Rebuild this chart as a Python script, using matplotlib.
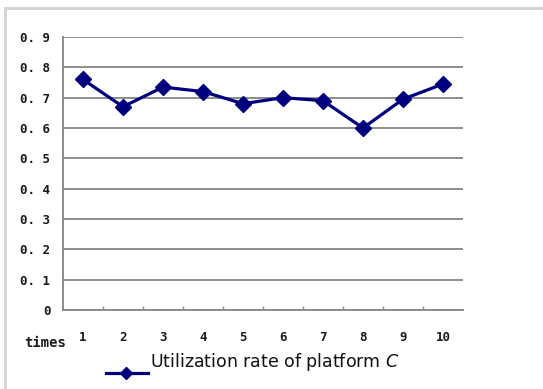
import matplotlib
matplotlib.use("Agg")
import matplotlib.pyplot as plt
from matplotlib.lines import Line2D

# Utilization of platform C over ten runs
times = [1, 2, 3, 4, 5, 6, 7, 8, 9, 10]
utilization = [0.76, 0.67, 0.735, 0.72, 0.68, 0.70, 0.69, 0.60, 0.695, 0.745]
y_ticks = [0, 0.1, 0.2, 0.3, 0.4, 0.5, 0.6, 0.7, 0.8, 0.9]
y_tick_labels = ["0", "0. 1", "0. 2", "0. 3", "0. 4", "0. 5", "0. 6", "0. 7", "0. 8", "0. 9"]
x_tick_labels = [str(t) for t in times]
series_name = r"Utilization rate of platform $\mathit{C}$"

W, H = 543, 389
fig = plt.figure(figsize=(W / 100, H / 100), dpi=100)
fig.patch.set_facecolor("white")

def fx(px):
    return px / W

def fy(py):
    return 1 - py / H

ax = fig.add_axes([fx(63), fy(310), fx(463) - fx(63), fy(37) - fy(310)])
ax.set_xlim(0.5, 10.5)
ax.set_ylim(0, 0.9)

navy = "#00007f"
ax.plot(times, utilization, color=navy, lw=2.3, marker="D", ms=8,
        mfc=navy, mec=navy, zorder=3, clip_on=False)

grid_c = "#8c8c8c"
tick_font = dict(fontsize=9, fontweight="bold", family="DejaVu Sans Mono",
                 color="#1a1a1a")
ax.set_yticks(y_ticks)
ax.set_yticklabels(y_tick_labels, **tick_font)
ax.yaxis.grid(True, color=grid_c, lw=1.4)
ax.tick_params(axis="y", length=0, pad=9)

ax.set_xticks(times)
ax.set_xticklabels(x_tick_labels, **tick_font)
ax.set_xticks([t + 0.5 for t in times[:-1]], minor=True)
ax.tick_params(axis="x", which="major", length=0, pad=15)
ax.tick_params(axis="x", which="minor", direction="in", length=3,
               width=1, color=grid_c)
ax.set_axisbelow(True)

for side in ("top", "right"):
    ax.spines[side].set_visible(False)
for side in ("left", "bottom"):
    ax.spines[side].set_color(grid_c)
    ax.spines[side].set_linewidth(1.4)

fig.text(fx(24), fy(343), "times", fontsize=10, fontweight="bold",
         family="DejaVu Sans Mono", color="#1a1a1a", va="center", ha="left")

# legend entry
fig.add_artist(Line2D([fx(106), fx(148)], [fy(373), fy(373)], color=navy,
                      lw=2.3, transform=fig.transFigure))
fig.add_artist(Line2D([fx(126)], [fy(373)], color=navy, marker="D", ms=6,
                      transform=fig.transFigure))
fig.text(fx(150), fy(362), series_name, fontsize=12.5, color="#111111",
         va="center", ha="left")

# outer frame
frame_c = "#d4d4d4"
fig.add_artist(Line2D([fx(5), 1], [fy(8), fy(8)], color=frame_c, lw=2,
                      transform=fig.transFigure))
fig.add_artist(Line2D([fx(5), fx(5)], [fy(8), 0], color=frame_c, lw=2,
                      transform=fig.transFigure))

fig.savefig("out.png", dpi=100)
